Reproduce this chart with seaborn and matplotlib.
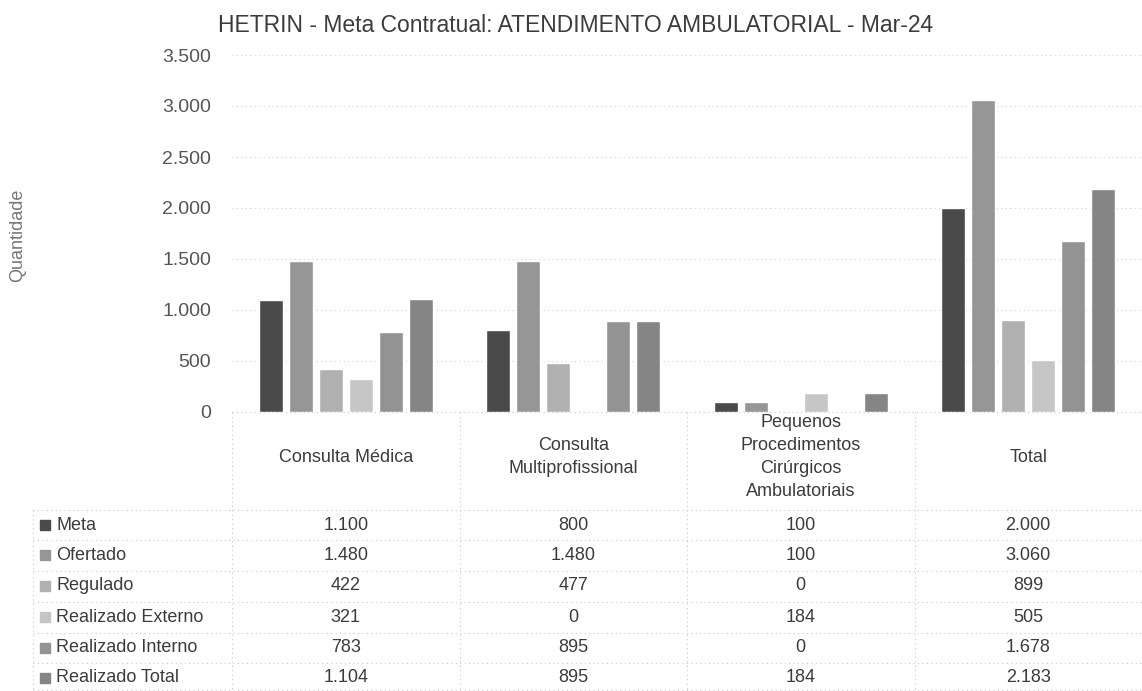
import pandas as pd
import matplotlib.pyplot as plt
import matplotlib.transforms as mtransforms
import seaborn as sns

# Data
categorias = ["Consulta Médica", "Consulta\nMultiprofissional",
              "Pequenos\nProcedimentos\nCirúrgicos\nAmbulatoriais", "Total"]
series = ["Meta", "Ofertado", "Regulado", "Realizado Externo",
          "Realizado Interno", "Realizado Total"]
meta = [1100, 800, 100, 2000]
ofertado = [1480, 1480, 100, 3060]
regulado = [422, 477, 0, 899]
realizado_externo = [321, 0, 184, 505]
realizado_interno = [783, 895, 0, 1678]
realizado_total = [1104, 895, 184, 2183]
yticks = [0, 500, 1000, 1500, 2000, 2500, 3000, 3500]

valores = [meta, ofertado, regulado, realizado_externo,
           realizado_interno, realizado_total]
rows = []
for s, vals in zip(series, valores):
    for c, v in zip(categorias, vals):
        rows.append({"categoria": c, "serie": s, "valor": v})
df = pd.DataFrame(rows)

cores = ["#4a4a4a", "#969696", "#b0b0b0", "#c6c6c6", "#939393", "#858585"]
texto = "#3c3c3c"

sns.set_style("white")
plt.rcParams["font.family"] = ["Liberation Sans", "DejaVu Sans"]

W, H = 1142, 691
fig = plt.figure(figsize=(W / 100, H / 100), dpi=100)
ax = fig.add_axes([232 / W, 1 - 412 / H, 910 / W, (412 - 55) / H])

sns.barplot(data=df, x="categoria", y="valor", hue="serie",
            order=categorias, hue_order=series, palette=cores,
            width=0.79, gap=0.2, saturation=1, legend=False, ax=ax)

ax.set_ylim(0, 3500)
ax.set_yticks(yticks)
ax.set_yticklabels([f"{v:,}".replace(",", ".") for v in yticks],
                   fontsize=14, color="#555555")
ax.tick_params(axis="y", length=0, pad=15)
ax.set_xticks([])
ax.set_xlabel("")
ax.set_ylabel("")
for sp in ax.spines.values():
    sp.set_visible(False)
ax.yaxis.grid(True, color="#d0d0d0", linestyle=(0, (1, 3)), linewidth=0.8)
ax.set_axisbelow(True)

fig.text(218 / W, 1 - 25 / H,
         "HETRIN - Meta Contratual: ATENDIMENTO AMBULATORIAL - Mar-24",
         ha="left", va="center", fontsize=16.5, color=texto)
fig.text(18 / W, 1 - 235 / H, "Quantidade", rotation=90,
         ha="center", va="center", fontsize=13, color="#777777")

# data table under the plot
tr = mtransforms.blended_transform_factory(ax.transData, fig.transFigure)
linha = dict(color="#c8c8c8", linestyle=(0, (1, 3)), linewidth=0.8)

for i, c in enumerate(categorias):
    fig.text(i, 1 - 457 / H, c, transform=tr, ha="center", va="center",
             fontsize=13, color=texto, linespacing=1.45)

row_y = [525, 555, 586, 617, 648, 678]
for s, vals, cor, y in zip(series, valores, cores, row_y):
    fig.patches.append(plt.Rectangle((40 / W, 1 - (y + 5) / H), 10 / W, 10 / H,
                                     transform=fig.transFigure, color=cor,
                                     figure=fig))
    fig.text(56 / W, 1 - y / H, s, ha="left", va="center",
             fontsize=13, color=texto)
    for i, v in enumerate(vals):
        fig.text(i, 1 - y / H, f"{v:,}".replace(",", "."), transform=tr,
                 ha="center", va="center", fontsize=13, color=texto)

# table borders
for y in [510, 540, 571, 602, 633, 663, 690]:
    fig.add_artist(plt.Line2D([33 / W, 1], [1 - y / H, 1 - y / H],
                              transform=fig.transFigure, **linha))
fig.add_artist(plt.Line2D([232 / W, 1], [1 - 412 / H, 1 - 412 / H],
                          transform=fig.transFigure, **linha))
fig.add_artist(plt.Line2D([33 / W, 33 / W], [1 - 510 / H, 0],
                          transform=fig.transFigure, **linha))
for i in range(len(categorias) + 1):
    fig.add_artist(plt.Line2D([i - 0.5, i - 0.5], [1 - 412 / H, 0],
                              transform=tr, **linha))

plt.savefig("out.png", dpi=100)
